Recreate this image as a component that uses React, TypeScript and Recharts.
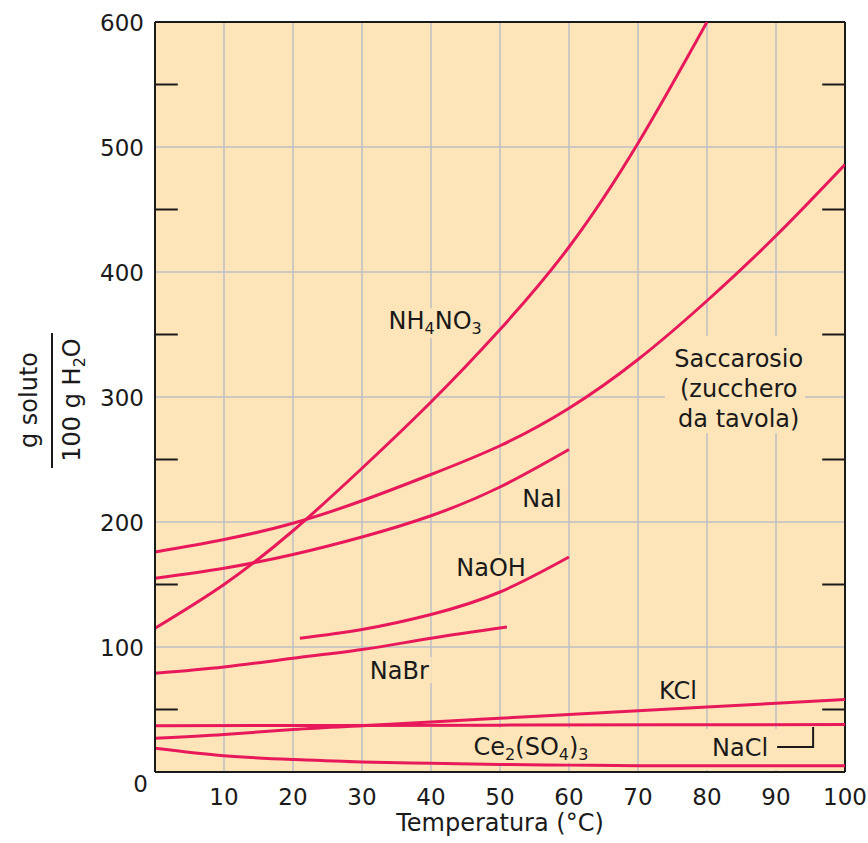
import React from "react";
import {
  LineChart,
  Line,
  XAxis,
  YAxis,
  CartesianGrid,
  ReferenceArea,
  ReferenceDot,
  ReferenceLine,
} from "recharts";

// temperature (°C) and solubility (g per 100 g H2O)
const nh4no3Temps = [0, 10, 20, 30, 40, 50, 60, 70, 80];
const nh4no3Values = [115, 150, 193, 243, 296, 354, 420, 503, 600];

const sucroseTemps = [0, 10, 20, 30, 40, 50, 60, 70, 80, 90, 100];
const sucroseValues = [176, 186, 199, 217, 238, 261, 291, 330, 377, 429, 486];

const naiTemps = [0, 10, 20, 30, 40, 50, 60];
const naiValues = [155, 163, 174, 188, 205, 228, 258];

const naohTemps = [21, 30, 40, 50, 60];
const naohValues = [107, 114, 126, 144, 172];

const nabrTemps = [0, 10, 20, 30, 40, 51];
const nabrValues = [79, 84, 91, 98, 107, 116];

const kclTemps = [0, 10, 20, 30, 40, 50, 60, 70, 80, 90, 100];
const kclValues = [27, 30, 34, 37, 40, 43, 46, 49, 52, 55, 58];

const naclTemps = [0, 50, 100];
const naclValues = [37, 37.5, 38];

const ceTemps = [0, 10, 20, 30, 40, 50, 60, 70, 80, 90, 100];
const ceValues = [19, 13, 10, 8, 7, 6, 5.5, 5, 5, 5, 5];

const xTicks = [10, 20, 30, 40, 50, 60, 70, 80, 90, 100];
const yTicks = [0, 100, 200, 300, 400, 500, 600];
const yMinorTicks = [50, 150, 250, 350, 450, 550];

const BG = "#fee5b9";
const RED = "#e8195a";
const GRID = "#bdbfc6";
const INK = "#1a1a1a";
const FONT = "'DejaVu Sans', sans-serif";
const MINOR_LEN = 3.3; // inward tick length, in °C units

const zip = (ts: number[], vs: number[]) => ts.map((t, i) => ({ t, v: vs[i] }));

const series = [
  zip(nh4no3Temps, nh4no3Values),
  zip(sucroseTemps, sucroseValues),
  zip(naiTemps, naiValues),
  zip(naohTemps, naohValues),
  zip(nabrTemps, nabrValues),
  zip(kclTemps, kclValues),
  zip(naclTemps, naclValues),
  zip(ceTemps, ceValues),
];

// boxes behind labels that hide grid lines (data units)
const labelBoxes = [
  { x1: 73.9, x2: 94.2, y1: 271, y2: 349 },
  { x1: 45.2, x2: 63.8, y1: 7.5, y2: 35 },
  { x1: 79.7, x2: 95.7, y1: 1.6, y2: 34.4 },
  { x1: 32, x2: 48, y1: 347, y2: 371 },
  { x1: 42.8, x2: 54.5, y1: 154, y2: 174 },
  { x1: 30.6, x2: 40.1, y1: 71, y2: 92 },
  { x1: 52.8, x2: 59.4, y1: 210, y2: 229 },
  { x1: 72.3, x2: 79.3, y1: 55, y2: 76 },
];

const sub = (s: string) => (
  <tspan dy={5} fontSize={16}>
    {s}
  </tspan>
);

const txt = (x: number, y: number, children: React.ReactNode) => (
  <text x={x} y={y} textAnchor="middle" fontFamily={FONT} fontSize={24} fill={INK}>
    {children}
  </text>
);

const labels: { t: number; v: number; render: (x: number, y: number) => React.ReactNode }[] = [
  {
    t: 40.6,
    v: 354.4,
    render: (x, y) =>
      txt(x, y, (
        <>
          NH{sub("4")}
          <tspan dy={-5}>NO</tspan>
          {sub("3")}
        </>
      )),
  },
  {
    t: 84.6,
    v: 324,
    render: (x, y) => (
      <g>
        {txt(x, y, "Saccarosio")}
        {txt(x, y + 30, "(zucchero")}
        {txt(x, y + 60, "da tavola)")}
      </g>
    ),
  },
  { t: 56.1, v: 212, render: (x, y) => txt(x, y, "NaI") },
  { t: 48.7, v: 156.8, render: (x, y) => txt(x, y, "NaOH") },
  { t: 35.4, v: 74.4, render: (x, y) => txt(x, y, "NaBr") },
  { t: 75.8, v: 58.4, render: (x, y) => txt(x, y, "KCl") },
  {
    t: 54.5,
    v: 13.6,
    render: (x, y) =>
      txt(x, y, (
        <>
          Ce{sub("2")}
          <tspan dy={-5}>(SO</tspan>
          {sub("4")}
          <tspan dy={-5}>)</tspan>
          {sub("3")}
        </>
      )),
  },
  {
    t: 84.8,
    v: 12.8,
    render: (x, y) => (
      <g>
        {txt(x, y, "NaCl")}
        <polyline
          points={`${x + 37},${y - 9} ${x + 73},${y - 9} ${x + 73},${y - 29}`}
          fill="none"
          stroke={INK}
          strokeWidth={2}
        />
      </g>
    ),
  },
];

const YTick = (props: any) => {
  const { y, payload } = props;
  const isZero = payload.value === 0;
  return (
    <text
      x={isZero ? 148 : 144}
      y={isZero ? y + 20 : y + 9}
      textAnchor="end"
      fontFamily={FONT}
      fontSize={23}
      fill={INK}
    >
      {payload.value}
    </text>
  );
};

const XTick = (props: any) => {
  const { x, payload } = props;
  return (
    <text x={x} y={805} textAnchor="middle" fontFamily={FONT} fontSize={23} fill={INK}>
      {payload.value}
    </text>
  );
};

const YTitle = (props: any) => {
  const vb = props.viewBox;
  const cx = vb.x + 52;
  const cy = vb.y + vb.height / 2 + 3;
  return (
    <g transform={`translate(${cx},${cy}) rotate(-90)`} fontFamily={FONT} fontSize={24} fill={INK}>
      <text x={0} y={-15} textAnchor="middle">
        g soluto
      </text>
      <line x1={-68} x2={67} y1={0} y2={0} stroke={INK} strokeWidth={2} />
      <text x={0} y={28} textAnchor="middle">
        100 g H{sub("2")}
        <tspan dy={-5}>O</tspan>
      </text>
    </g>
  );
};

const XTitle = (props: any) => {
  const vb = props.viewBox;
  return (
    <text
      x={vb.x + vb.width / 2}
      y={vb.y + 59}
      textAnchor="middle"
      fontFamily={FONT}
      fontSize={24}
      fill={INK}
    >
      Temperatura (°C)
    </text>
  );
};

export default function App() {
  return (
    <div style={{ width: 868, height: 843 }}>
      <style>{`body{margin:0;background:#fff}`}</style>
      <LineChart width={868} height={843} margin={{ top: 22, right: 23, bottom: 0, left: 0 }}>
        <CartesianGrid fill={BG} stroke={GRID} strokeWidth={1.5} />
        <XAxis
          dataKey="t"
          type="number"
          domain={[0, 100]}
          allowDataOverflow
          ticks={xTicks}
          height={71}
          tickLine={false}
          axisLine={{ stroke: INK, strokeWidth: 2 }}
          tick={<XTick />}
          label={{ content: <XTitle /> } as any}
        />
        <YAxis
          type="number"
          domain={[0, 600]}
          allowDataOverflow
          ticks={yTicks}
          width={155}
          tickLine={false}
          axisLine={{ stroke: INK, strokeWidth: 2 }}
          tick={<YTick />}
          label={{ content: <YTitle /> } as any}
        />
        <ReferenceLine y={600} stroke={INK} strokeWidth={2} ifOverflow="visible" />
        <ReferenceLine x={100} stroke={INK} strokeWidth={2} ifOverflow="visible" />
        {yMinorTicks.map((v) => (
          <ReferenceLine
            key={`ml${v}`}
            segment={[
              { x: 0, y: v },
              { x: MINOR_LEN, y: v },
            ]}
            stroke={INK}
            strokeWidth={2}
            ifOverflow="visible"
          />
        ))}
        {yMinorTicks.map((v) => (
          <ReferenceLine
            key={`mr${v}`}
            segment={[
              { x: 100 - MINOR_LEN, y: v },
              { x: 100, y: v },
            ]}
            stroke={INK}
            strokeWidth={2}
            ifOverflow="visible"
          />
        ))}
        {labelBoxes.map((b, i) => (
          <ReferenceArea
            key={`box${i}`}
            x1={b.x1}
            x2={b.x2}
            y1={b.y1}
            y2={b.y2}
            fill={BG}
            fillOpacity={1}
            stroke="none"
            ifOverflow="visible"
          />
        ))}
        {series.map((d, i) => (
          <Line
            key={`s${i}`}
            data={d}
            dataKey="v"
            type="natural"
            stroke={RED}
            strokeWidth={3}
            dot={false}
            activeDot={false}
            isAnimationActive={false}
          />
        ))}
        {labels.map((l, i) => (
          <ReferenceDot
            key={`lab${i}`}
            x={l.t}
            y={l.v}
            r={0}
            fill="none"
            stroke="none"
            label={(p: any) => l.render(p.viewBox.x, p.viewBox.y)}
          />
        ))}
      </LineChart>
    </div>
  );
}
